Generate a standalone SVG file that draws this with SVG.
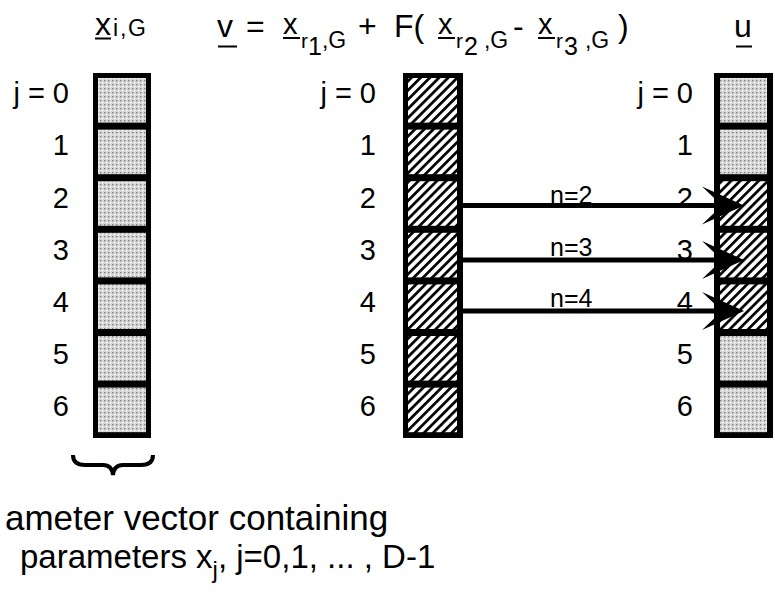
<svg xmlns="http://www.w3.org/2000/svg" width="775" height="592" viewBox="0 0 775 592">
<defs>
<pattern id="dots" width="4" height="4" patternUnits="userSpaceOnUse">
<rect width="4" height="4" fill="#d6d6d6"/>
<rect x="0" y="0" width="1.3" height="1.3" fill="#7a7a7a"/>
<rect x="2" y="2" width="1.3" height="1.3" fill="#ffffff"/>
</pattern>
<pattern id="hatch" width="6.5" height="6.5" patternUnits="userSpaceOnUse" patternTransform="rotate(45)">
<rect width="6.5" height="6.5" fill="#ffffff"/>
<rect x="0" y="0" width="2.7" height="6.5" fill="#000000"/>
</pattern>
<marker id="head" viewBox="0 0 42 40" refX="20" refY="20" markerWidth="42" markerHeight="40" markerUnits="userSpaceOnUse" orient="auto">
<path d="M42,20 L0,1 L20,20 L0,39 Z" fill="#000"/>
</marker>
</defs>
<style>
text{font-family:"Liberation Sans",Arial,sans-serif;fill:#000}
.lbl{font-size:29px;text-anchor:end}
.n{font-size:25px}
.big{font-size:32px}
.mid{font-size:29px}
.sub{font-size:21px}
.gs{font-size:23px}
.dg{font-size:25px}
.ul{stroke:#000;stroke-width:2}
.col{fill:#000}
.conn{stroke:#000;stroke-width:5;fill:none}
.d1{font-size:35px}
.d2{font-size:33px}
</style>

<g id="title">
<text class="big" x="95" y="35">x</text>
<line class="ul" x1="95" y1="38.5" x2="111" y2="38.5"/>
<text class="gs" x="113 120 128" y="36">i,G</text>
</g>

<g id="formula">
<text class="big" x="217" y="37">v</text>
<line class="ul" x1="218" y1="46.5" x2="237" y2="46.5"/>
<text class="big" x="246" y="37">=</text>
<text class="mid" x="283" y="34">x</text>
<line class="ul" x1="283" y1="38" x2="300" y2="38"/>
<text class="sub" x="301" y="48">r<tspan class="dg" dy="7">1</tspan><tspan class="gs" dy="-7">,G</tspan></text>
<text class="big" x="358" y="37">+</text>
<text class="big" x="394" y="37">F(</text>
<text class="mid" x="438" y="34">x</text>
<line class="ul" x1="438" y1="38" x2="455" y2="38"/>
<text class="sub" x="456" y="48">r<tspan class="dg" dx="1" dy="7">2</tspan><tspan class="gs" dx="6" dy="-7">,G</tspan></text>
<text class="big" x="513" y="37">-</text>
<text class="mid" x="538" y="34">x</text>
<line class="ul" x1="538" y1="38" x2="555" y2="38"/>
<text class="sub" x="556" y="48">r<tspan class="dg" dx="1" dy="7">3</tspan><tspan class="gs" dx="7" dy="-7">,G</tspan></text>
<text class="big" x="618" y="37">)</text>
<text class="big" x="734" y="37">u</text>
<line class="ul" x1="736" y1="46.5" x2="752" y2="46.5"/>
</g>

<g id="labels-left">
<text class="lbl" x="69" y="103">j = 0</text>
<text class="lbl" x="69" y="155">1</text>
<text class="lbl" x="69" y="208">2</text>
<text class="lbl" x="69" y="260">3</text>
<text class="lbl" x="69" y="312">4</text>
<text class="lbl" x="69" y="364">5</text>
<text class="lbl" x="69" y="416">6</text>
</g>
<g id="labels-mid">
<text class="lbl" x="376" y="103">j = 0</text>
<text class="lbl" x="376" y="155">1</text>
<text class="lbl" x="376" y="208">2</text>
<text class="lbl" x="376" y="260">3</text>
<text class="lbl" x="376" y="312">4</text>
<text class="lbl" x="376" y="364">5</text>
<text class="lbl" x="376" y="416">6</text>
</g>
<g id="labels-right">
<text class="lbl" x="693" y="103">j = 0</text>
<text class="lbl" x="693" y="155">1</text>
<text class="lbl" x="693" y="208">2</text>
<text class="lbl" x="693" y="260">3</text>
<text class="lbl" x="693" y="312">4</text>
<text class="lbl" x="693" y="364">5</text>
<text class="lbl" x="693" y="416">6</text>
</g>

<g id="vector-x">
<rect class="col" x="93" y="73" width="58" height="365"/>
<rect x="98" y="78" width="48" height="44.6" fill="url(#dots)"/>
<rect x="98" y="129.6" width="48" height="44.6" fill="url(#dots)"/>
<rect x="98" y="181.2" width="48" height="44.6" fill="url(#dots)"/>
<rect x="98" y="232.8" width="48" height="44.6" fill="url(#dots)"/>
<rect x="98" y="284.4" width="48" height="44.6" fill="url(#dots)"/>
<rect x="98" y="336" width="48" height="44.6" fill="url(#dots)"/>
<rect x="98" y="387.6" width="48" height="44.6" fill="url(#dots)"/>
</g>

<g id="vector-v">
<rect class="col" x="403" y="73" width="60" height="365"/>
<rect x="408" y="78" width="49" height="44.6" fill="url(#hatch)"/>
<rect x="408" y="129.6" width="49" height="44.6" fill="url(#hatch)"/>
<rect x="408" y="181.2" width="49" height="44.6" fill="url(#hatch)"/>
<rect x="408" y="232.8" width="49" height="44.6" fill="url(#hatch)"/>
<rect x="408" y="284.4" width="49" height="44.6" fill="url(#hatch)"/>
<rect x="408" y="336" width="49" height="44.6" fill="url(#hatch)"/>
<rect x="408" y="387.6" width="49" height="44.6" fill="url(#hatch)"/>
</g>

<g id="vector-u">
<rect class="col" x="714" y="73" width="59" height="365"/>
<rect x="720" y="78" width="47" height="44.6" fill="url(#dots)"/>
<rect x="720" y="129.6" width="47" height="44.6" fill="url(#dots)"/>
<rect x="720" y="181.2" width="47" height="44.6" fill="url(#hatch)"/>
<rect x="720" y="232.8" width="47" height="44.6" fill="url(#hatch)"/>
<rect x="720" y="284.4" width="47" height="44.6" fill="url(#hatch)"/>
<rect x="720" y="336" width="47" height="44.6" fill="url(#dots)"/>
<rect x="720" y="387.6" width="47" height="44.6" fill="url(#dots)"/>
</g>

<g id="brace">
<path d="M73,455 Q73,465 85,465 L103,465 Q112,465 113,475 Q114,465 123,465 L141,465 Q153,465 153,455" fill="none" stroke="#000" stroke-width="4"/>
</g>

<g id="edge-labels">
<text class="n" x="550" y="204">n=2</text>
<text class="n" x="550" y="256">n=3</text>
<text class="n" x="550" y="307">n=4</text>
</g>

<g id="connectors">
<line class="conn" x1="463" y1="205.5" x2="722" y2="205.5" marker-end="url(#head)"/>
<line class="conn" x1="463" y1="260" x2="722" y2="260" marker-end="url(#head)"/>
<line class="conn" x1="463" y1="311" x2="722" y2="311" marker-end="url(#head)"/>
</g>

<g id="description">
<text class="d1" x="5" y="530">ameter vector containing</text>
<text class="d2" x="20" y="568">parameters x<tspan dy="10" style="font-size:24px">j</tspan><tspan dy="-10">, j=0,1, ... , D-1</tspan></text>
</g>
</svg>
